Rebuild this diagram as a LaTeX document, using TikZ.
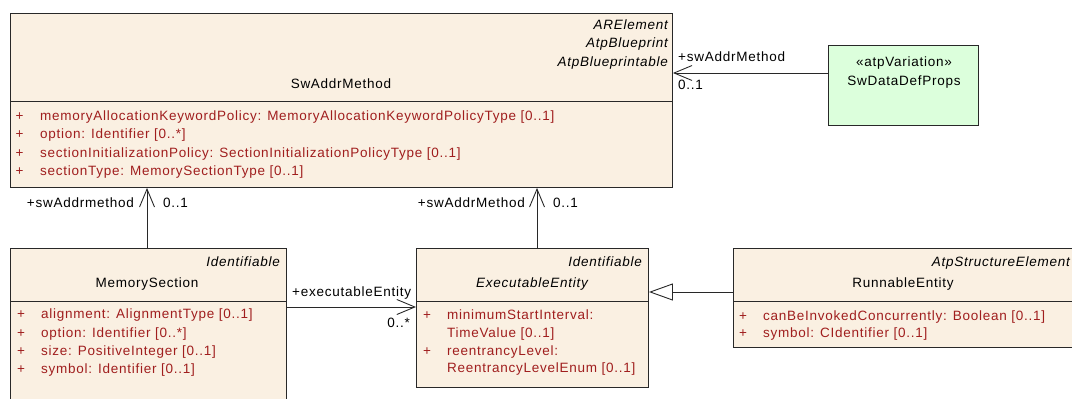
\documentclass[tikz,border=0pt]{standalone}
\usepackage{fontspec}
\setmainfont{Liberation Sans}[LetterSpace=5.5]
\usetikzlibrary{arrows.meta}

\definecolor{classfill}{RGB}{250,240,226}
\definecolor{variantfill}{RGB}{220,255,220}
\definecolor{attrred}{RGB}{160,30,30}
\definecolor{edgegray}{RGB}{40,40,40}
\newcommand{\umlfont}{\fontsize{13.5}{16}\selectfont}

\begin{document}
\begin{tikzpicture}[x=1pt, y=-1pt,
	classbox/.style={draw=edgegray, fill=classfill, line width=0.9pt, anchor=north west, inner sep=0pt},
	varbox/.style={classbox, fill=variantfill},
	divider/.style={draw=edgegray, line width=0.9pt},
	stereo/.style={anchor=base east, inner sep=0pt, font=\umlfont\itshape},
	cname/.style={anchor=base, inner sep=0pt, font=\umlfont},
	plus/.style={anchor=base, inner sep=0pt, text=attrred, font=\umlfont},
	attr/.style={anchor=base west, inner sep=0pt, text=attrred, font=\umlfont},
	role/.style={inner sep=0pt, font=\umlfont},
	assoc/.style={draw=edgegray, line width=0.9pt, -{Straight Barb[length=18pt, width=15pt]}},
	generalize/.style={draw=edgegray, line width=0.9pt, -{Triangle[open, length=24pt, width=17pt, fill=white]}}
	]
	\useasboundingbox (0,0) rectangle (1072,399);

	% Class boxes
	\node[classbox, minimum width=662pt, minimum height=174pt] (swaddr) at (10,13) {};
	\node[varbox, minimum width=150pt, minimum height=80pt] (datadef) at (828,45) {};
	\node[classbox, minimum width=276pt, minimum height=160pt] (memsec) at (10,248) {};
	\node[classbox, minimum width=232pt, minimum height=139pt] (exec) at (416,248) {};
	\node[classbox, minimum width=345pt, minimum height=99pt] (runent) at (733,248) {};

	% Header dividers
	\draw[divider] (10,101) -- (672,101);
	\draw[divider] (10,301) -- (286,301);
	\draw[divider] (416,301) -- (648,301);
	\draw[divider] (733,301) -- (1078,301);

	% SwAddrMethod
	\node[stereo] (sw-s1) at (668,29) {ARElement};
	\node[stereo] (sw-s2) at (668,47) {AtpBlueprint};
	\node[stereo] (sw-s3) at (668,66) {AtpBlueprintable};
	\node[cname] (sw-name) at (341,88) {SwAddrMethod};
	\foreach \y/\txt [count=\i] in {120/{memoryAllocationKeywordPolicy: MemoryAllocationKeywordPolicyType [0..1]},
		138.5/{option: Identifier [0..*]},
		157/{sectionInitializationPolicy: SectionInitializationPolicyType [0..1]},
		175/{sectionType: MemorySectionType [0..1]}} {
		\node[plus] (sw-p\i) at (19.5,\y) {+};
		\node[attr] (sw-a\i) at (40,\y) {\txt};
	}

	% SwDataDefProps
	\node[cname] (dd-s) at (904,66) {«atpVariation»};
	\node[cname] (dd-name) at (904,85) {SwDataDefProps};

	% MemorySection
	\node[stereo] (ms-s) at (280,266) {Identifiable};
	\node[cname] (ms-name) at (147,287) {MemorySection};
	\foreach \y/\txt [count=\i] in {318.5/{alignment: AlignmentType [0..1]},
		337/{option: Identifier [0..*]},
		355.5/{size: PositiveInteger [0..1]},
		373.5/{symbol: Identifier [0..1]}} {
		\node[plus] (ms-p\i) at (21,\y) {+};
		\node[attr] (ms-a\i) at (41,\y) {\txt};
	}

	% ExecutableEntity (abstract)
	\node[stereo] (ee-s) at (642,266) {Identifiable};
	\node[cname, font=\umlfont\itshape] (ee-name) at (532,287) {ExecutableEntity};
	\foreach \y/\txt/\mark [count=\i] in {319/{minimumStartInterval:}/+,
		337/{TimeValue [0..1]}/,
		355/{reentrancyLevel:}/+,
		372/{ReentrancyLevelEnum [0..1]}/} {
		\node[plus] (ee-p\i) at (427,\y) {\mark};
		\node[attr] (ee-a\i) at (447,\y) {\txt};
	}

	% RunnableEntity
	\node[stereo] (re-s) at (1070,266) {AtpStructureElement};
	\node[cname] (re-name) at (903,287) {RunnableEntity};
	\node[plus] (re-p1) at (743,320) {+};
	\node[attr] (re-a1) at (763,320) {canBeInvokedConcurrently: Boolean [0..1]};
	\node[plus] (re-p2) at (743,337) {+};
	\node[attr] (re-a2) at (763,337) {symbol: CIdentifier [0..1]};

	% Connections
	\coordinate (dd-out) at (828,73);
	\coordinate (ms-out) at (147,248);
	\coordinate (ee-up) at (537,248);
	\coordinate (ee-in) at (416,307);
	\coordinate (re-out) at (733,292);

	\draw[assoc] (dd-out) -- (dd-out -| swaddr.east);
	\draw[assoc] (ms-out) -- (ms-out |- swaddr.south);
	\draw[assoc] (ee-up) -- (ee-up |- swaddr.south);
	\draw[assoc] (ee-in -| memsec.east) -- (ee-in);
	\draw[generalize] (re-out) -- (re-out -| exec.east);

	% Role names and multiplicities
	\node[role, anchor=base west] (r1) at (678,61) {+swAddrMethod};
	\node[role, anchor=base west] (m1) at (678,89) {0..1};
	\node[role, anchor=base east] (r2) at (134,207) {+swAddrmethod};
	\node[role, anchor=base west] (m2) at (163,207) {0..1};
	\node[role, anchor=base east] (r3) at (525,207) {+swAddrMethod};
	\node[role, anchor=base west] (m3) at (553,207) {0..1};
	\node[role, anchor=base west] (r4) at (292,296) {+executableEntity};
	\node[role, anchor=base east] (m4) at (410,327) {0..*};
\end{tikzpicture}
\end{document}
